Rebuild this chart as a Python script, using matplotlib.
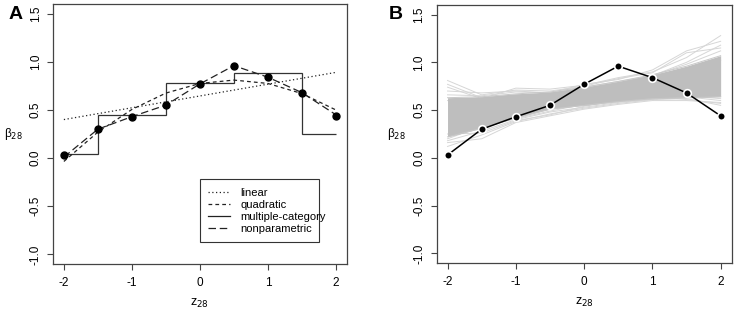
import matplotlib
matplotlib.use("Agg")
import matplotlib.pyplot as plt
from matplotlib.lines import Line2D

plt.rcParams['font.family'] = ['Liberation Sans', 'DejaVu Sans']

# ---- data ----
z = [-2.0, -1.5, -1.0, -0.5, 0.0, 0.5, 1.0, 1.5, 2.0]
beta = [0.03, 0.30, 0.43, 0.55, 0.77, 0.96, 0.84, 0.68, 0.44]

linear_z = [-2.0, 2.0]
linear_b = [0.40, 0.89]

quad_b = [-0.035, 0.27, 0.505, 0.675, 0.775, 0.81, 0.775, 0.67, 0.50]

step_edges = [-2.0, -1.5, -0.5, 0.5, 1.5, 2.0]
step_vals = [0.04, 0.45, 0.78, 0.88, 0.25]

nonpar_b = [0.01, 0.30, 0.43, 0.55, 0.77, 0.96, 0.84, 0.68, 0.45]

# panel B: dense core of permutation curves and some outlying curves
core_lower = [0.22, 0.31, 0.42, 0.51, 0.55, 0.59, 0.62, 0.63, 0.64]
core_upper = [0.63, 0.64, 0.67, 0.69, 0.74, 0.80, 0.87, 0.96, 1.07]
outer_curves = [
    [0.81, 0.66, 0.71, 0.70, 0.75, 0.83, 0.89, 1.10, 1.15],
    [0.74, 0.62, 0.73, 0.72, 0.76, 0.84, 0.90, 1.05, 1.28],
    [0.70, 0.68, 0.70, 0.68, 0.77, 0.82, 0.92, 1.12, 1.22],
    [0.77, 0.63, 0.66, 0.67, 0.74, 0.80, 0.86, 1.00, 1.18],
    [0.66, 0.65, 0.69, 0.68, 0.73, 0.79, 0.86, 0.98, 1.12],
    [0.60, 0.60, 0.65, 0.67, 0.72, 0.78, 0.85, 0.94, 1.02],
    [0.12, 0.24, 0.38, 0.46, 0.52, 0.57, 0.61, 0.62, 0.55],
    [0.16, 0.20, 0.37, 0.44, 0.51, 0.56, 0.60, 0.60, 0.58],
    [0.18, 0.28, 0.40, 0.48, 0.53, 0.58, 0.61, 0.64, 0.60],
    [0.25, 0.26, 0.39, 0.45, 0.54, 0.60, 0.63, 0.65, 0.62],
    [0.20, 0.33, 0.41, 0.49, 0.56, 0.61, 0.65, 0.61, 0.57],
]

xticks = [-2, -1, 0, 1, 2]
yticks = [-1.0, -0.5, 0.0, 0.5, 1.0, 1.5]
ytick_labels = ["-1.0", "-0.5", "0.0", "0.5", "1.0", "1.5"]

# ---- figure ----
fig = plt.figure(figsize=(7.4, 3.13), dpi=100)
axA = fig.add_axes([0.0716, 0.1565, 0.397, 0.8307])
axB = fig.add_axes([0.590, 0.1597, 0.3986, 0.8243])

LC = '#222222'
SP = '#444444'

def style(ax):
    ax.set_xlim(-2.16, 2.16)
    ax.set_ylim(-1.1, 1.6)
    ax.set_xticks(xticks)
    ax.set_xticklabels([str(t) for t in xticks], fontsize=8.5)
    ax.set_yticks(yticks)
    ax.set_yticklabels(ytick_labels, fontsize=8.5, rotation=90, va='center')
    ax.tick_params(axis='both', direction='out', length=4, width=0.8, color=SP)
    ax.tick_params(axis='x', pad=5)
    ax.tick_params(axis='y', pad=4)
    for s in ax.spines.values():
        s.set_color(SP)
        s.set_linewidth(0.9)
    ax.set_xlabel(r'z$_{28}$', fontsize=9, labelpad=6)
    ax.set_ylabel(r'$\mathregular{\beta}_{28}$', fontsize=8.5, rotation=0,
                  labelpad=0, va='center', ha='center')
    ax.yaxis.set_label_coords(-0.135, 0.5)

# Panel A
style(axA)
axA.plot(linear_z, linear_b, color=LC, lw=0.9, linestyle=(0, (1, 2)))
axA.plot(z, quad_b, color=LC, lw=0.9, linestyle=(0, (3, 2.5)))
axA.stairs(step_vals, step_edges, color='#333333', lw=0.9, baseline=None)
axA.plot(z, nonpar_b, color=LC, lw=0.9, linestyle=(0, (6, 3)))
axA.plot(z, beta, 'o', color='black', ms=5, zorder=5)

handles = [
    Line2D([], [], color=LC, lw=0.9, linestyle=(0, (1, 2))),
    Line2D([], [], color=LC, lw=0.9, linestyle=(0, (3, 2.5))),
    Line2D([], [], color=LC, lw=0.9),
    Line2D([], [], color=LC, lw=0.9, linestyle=(0, (6, 3))),
]
leg = axA.legend(handles, ['linear', 'quadratic', 'multiple-category', 'nonparametric'],
                 loc='lower left', bbox_to_anchor=(0.5, 0.085, 0.405, 0.23),
                 mode='expand', fontsize=8, fancybox=False, framealpha=1,
                 edgecolor='#333333', handlelength=2.0, handletextpad=0.9,
                 labelspacing=0.18, borderpad=0.75, borderaxespad=0)
leg.get_frame().set_linewidth(0.8)

fig.text(0.012, 0.955, 'A', fontsize=14, fontweight='bold', ha='left', va='center')

# Panel B
style(axB)
axB.fill_between(z, core_lower, core_upper, color='#BEBEBE', lw=0, zorder=2)
for c in outer_curves:
    axB.plot(z, c, color='#D6D6D6', lw=0.7, zorder=1)
axB.plot(z, core_lower, color='#C8C8C8', lw=0.7, zorder=2)
axB.plot(z, core_upper, color='#C8C8C8', lw=0.7, zorder=2)
axB.plot(z, beta, '-o', color='black', lw=1.1, ms=5.5,
         markeredgecolor='white', markeredgewidth=1.2, zorder=5)

fig.text(0.526, 0.955, 'B', fontsize=14, fontweight='bold', ha='left', va='center')

fig.savefig('out.png', dpi=100)
